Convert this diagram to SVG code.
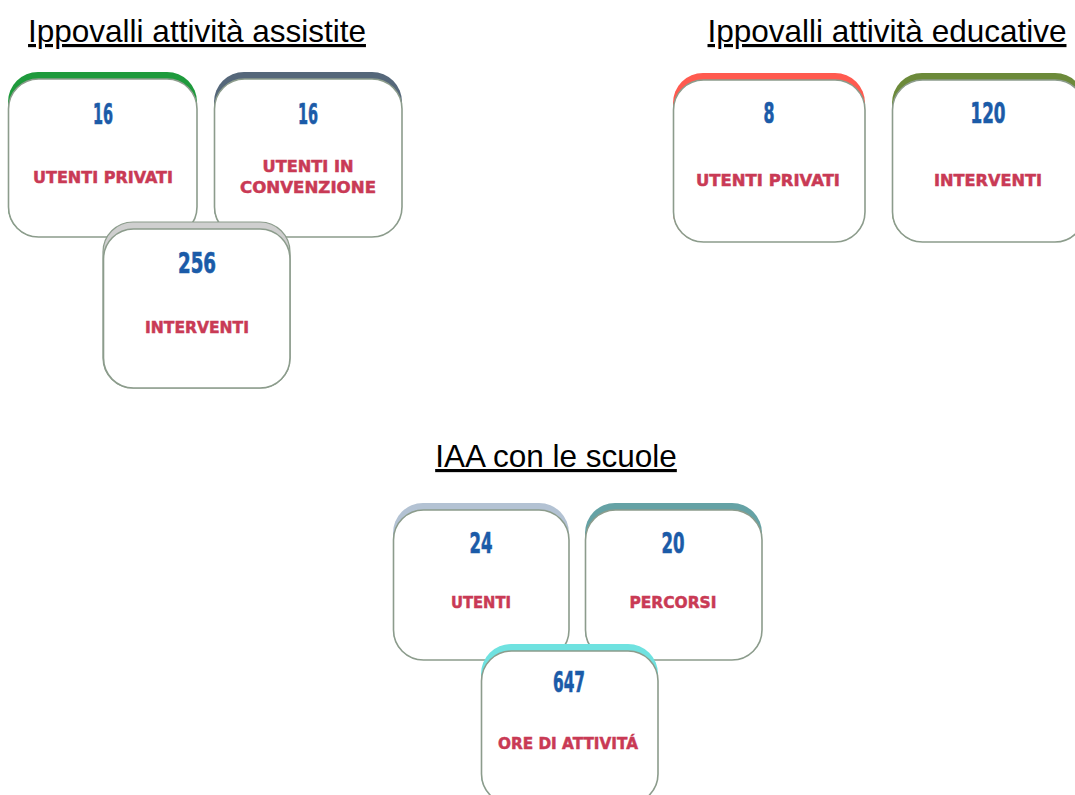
<svg xmlns="http://www.w3.org/2000/svg" width="1075" height="795" viewBox="0 0 1075 795">
<style>
.title{font-family:"Liberation Sans",Arial,sans-serif;font-size:31.5px;fill:#000;text-decoration:underline;text-anchor:middle}
.num{font-family:"DejaVu Sans",sans-serif;font-weight:bold;font-size:28px;fill:#1B5BA8;stroke:#1B5BA8;stroke-width:0.7;text-anchor:middle}
.lbl{font-family:"DejaVu Sans",sans-serif;font-weight:bold;font-size:15.5px;fill:#C93A55;stroke:#C93A55;stroke-width:0.5;text-anchor:middle}
.card{fill:#fff;stroke:#8C9C8C;stroke-width:1.6}
</style>
<rect width="1075" height="795" fill="#fff"/>
<text class="title" x="197" y="42">Ippovalli attività assistite</text>
<text class="title" x="887" y="42">Ippovalli attività educative</text>
<text class="title" x="556" y="467">IAA con le scuole</text>

<g id="n1">
<rect x="8" y="72" width="189" height="165" rx="30" fill="#1E9A3C"/>
<rect class="card" x="8.5" y="79" width="188.5" height="158" rx="30"/>
<text class="num" x="103" y="124" textLength="20" lengthAdjust="spacingAndGlyphs">16</text>
<text class="lbl" x="103" y="183" textLength="140" lengthAdjust="spacingAndGlyphs">UTENTI PRIVATI</text>
</g>
<g id="n2">
<rect x="214" y="72" width="188" height="165" rx="30" fill="#55677A"/>
<rect class="card" x="214.5" y="79" width="187.5" height="158" rx="30"/>
<text class="num" x="308" y="124" textLength="20" lengthAdjust="spacingAndGlyphs">16</text>
<text class="lbl" x="308" y="172" textLength="91" lengthAdjust="spacingAndGlyphs">UTENTI  IN</text>
<text class="lbl" x="308" y="193" textLength="136" lengthAdjust="spacingAndGlyphs">CONVENZIONE</text>
</g>
<g id="n3">
<rect x="103" y="222" width="187" height="166" rx="30" fill="#CFCFCF" stroke="#8C9C8C" stroke-width="1.2"/>
<rect class="card" x="103.5" y="229" width="186.5" height="159" rx="30"/>
<text class="num" x="197" y="273" textLength="38" lengthAdjust="spacingAndGlyphs">256</text>
<text class="lbl" x="197" y="333" textLength="104" lengthAdjust="spacingAndGlyphs">INTERVENTI</text>
</g>

<g id="n4">
<rect x="673" y="73" width="192" height="169" rx="30" fill="#FF5A4F"/>
<rect class="card" x="673.5" y="80" width="191.5" height="162" rx="30"/>
<text class="num" x="769" y="123" textLength="11" lengthAdjust="spacingAndGlyphs">8</text>
<text class="lbl" x="768" y="186" textLength="144" lengthAdjust="spacingAndGlyphs">UTENTI PRIVATI</text>
</g>
<g id="n5">
<rect x="892" y="73" width="193" height="169" rx="30" fill="#6C8A3A"/>
<rect class="card" x="892.5" y="80" width="192.5" height="162" rx="30"/>
<text class="num" x="988" y="123" textLength="35" lengthAdjust="spacingAndGlyphs">120</text>
<text class="lbl" x="988" y="186" textLength="108" lengthAdjust="spacingAndGlyphs">INTERVENTI</text>
</g>

<g id="n6">
<rect x="393" y="503" width="176" height="157" rx="30" fill="#B3C2D3"/>
<rect class="card" x="393.5" y="510" width="175.5" height="150" rx="30"/>
<text class="num" x="481" y="553" textLength="23" lengthAdjust="spacingAndGlyphs">24</text>
<text class="lbl" x="481" y="608" textLength="60" lengthAdjust="spacingAndGlyphs">UTENTI</text>
</g>
<g id="n7">
<rect x="585" y="503" width="177" height="157" rx="30" fill="#65A2A5"/>
<rect class="card" x="585.5" y="510" width="176.5" height="150" rx="30"/>
<text class="num" x="673" y="553" textLength="23" lengthAdjust="spacingAndGlyphs">20</text>
<text class="lbl" x="673" y="608" textLength="87" lengthAdjust="spacingAndGlyphs">PERCORSI</text>
</g>
<g id="n8">
<rect x="481" y="644" width="177" height="160" rx="30" fill="#6FE2E0"/>
<rect class="card" x="481.5" y="651" width="176.5" height="153" rx="30"/>
<text class="num" x="569" y="692" textLength="32" lengthAdjust="spacingAndGlyphs">647</text>
<text class="lbl" x="568" y="749" textLength="140" lengthAdjust="spacingAndGlyphs">ORE DI ATTIVITÁ</text>
</g>
<g id="connectors"/>
</svg>
